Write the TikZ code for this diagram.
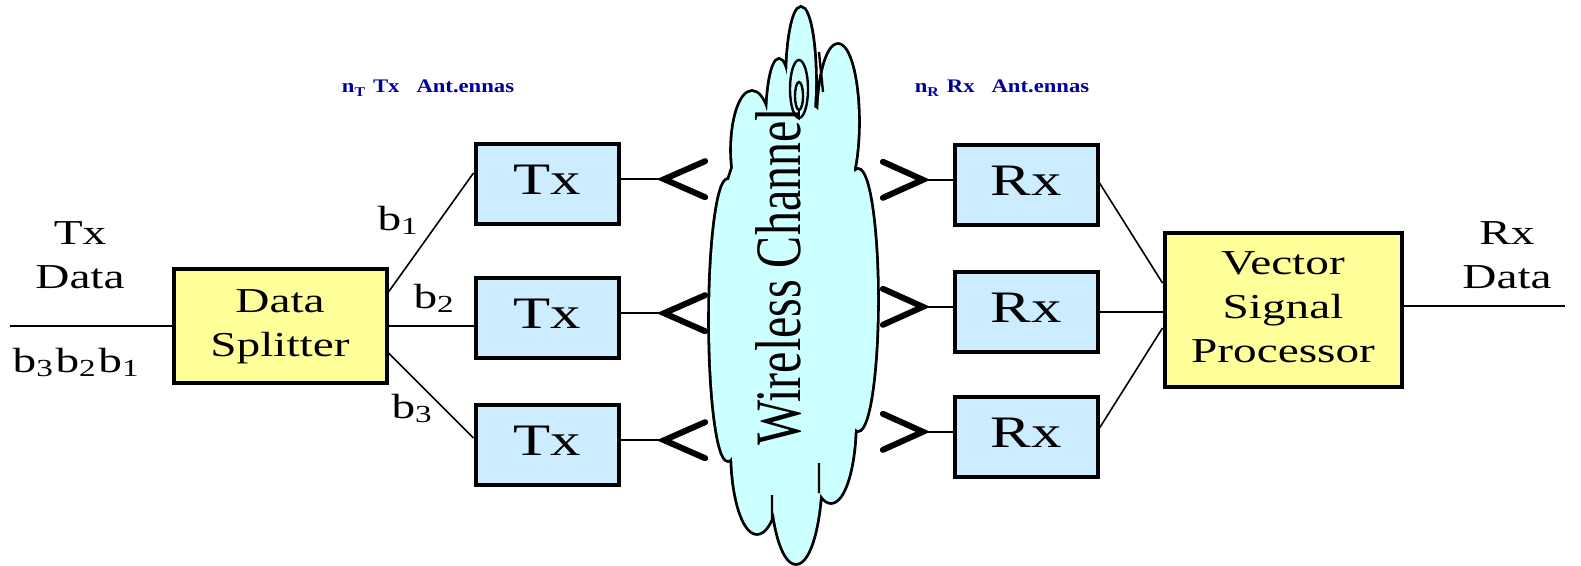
\documentclass[tikz,border=0pt]{standalone}
\usepackage{fontspec}
\setmainfont{Liberation Serif}
\usetikzlibrary{positioning}

\definecolor{txblue}{RGB}{204,236,255}
\definecolor{procyellow}{RGB}{255,255,153}
\definecolor{cloudcyan}{RGB}{204,255,255}
\definecolor{antblue}{RGB}{0,0,153}

% wide serif lettering
\newcommand\stretchtext[1]{\scalebox{1.35}[1]{\begin{tabular}[b]{@{}c@{}}#1\end{tabular}}}
% lobes of the channel cloud
\newcommand\cloudlobes{
  (793,300) ellipse [x radius=80, y radius=200]
  (801,82) ellipse [x radius=14, y radius=74]
  (838,122) ellipse [x radius=20, y radius=77]
  (779,122) ellipse [x radius=12, y radius=62]
  (752,150) ellipse [x radius=20, y radius=58]
  (757,450) ellipse [x radius=25, y radius=83]
  (796,470) ellipse [x radius=25, y radius=93]
  (831,420) ellipse [x radius=24, y radius=82]
  (858,300) ellipse [x radius=19, y radius=130]
  (728,320) ellipse [x radius=18, y radius=140]}

\begin{document}
\begin{tikzpicture}[x=0.25pt, y=-0.25pt, line width=0.4pt,
  unitbox/.style = {draw, line width=1pt, fill=txblue, minimum width=35.75pt, minimum height=20pt, inner sep=0pt, font=\fontsize{11.25}{13.5}\selectfont},
  procbox/.style = {draw, line width=1pt, fill=procyellow, inner sep=0pt, font=\fontsize{8.75}{11}\selectfont},
  lbl/.style = {inner sep=0pt, font=\fontsize{8.75}{11}\selectfont},
  antlabel/.style = {inner sep=0pt, text=antblue, font=\fontsize{4.8}{6}\selectfont\bfseries},
  chev/.style = {line width=1.5pt, line cap=round}]
	\useasboundingbox (0,0) rectangle (1581,566);

	% wireless channel
	\draw[line width=1.4pt] \cloudlobes;
	\fill[cloudcyan] \cloudlobes;
	\draw[line width=0.6pt] (799,89) ellipse [x radius=9, y radius=29] (799,96) ellipse [x radius=4, y radius=14];
	\draw[line width=0.6pt] (772,495) -- (772,520) (819,463) -- (819,493) (819,52) -- (823,92);
	\node[rotate=90, anchor=base, inner sep=0pt, font=\fontsize{12}{14}\selectfont] (chan) at (800,277) {\scalebox{1}[1.35]{Wireless Channel}};

	% blocks
	\node[procbox, minimum width=53.25pt, minimum height=28.5pt] (split) at (280,326) {\stretchtext{Data\\Splitter}};
	\node[unitbox] (tx2) [right of=split, node distance=66.75pt, yshift=2pt] {\stretchtext{Tx}};
	\node[unitbox] (tx1) [above of=tx2, node distance=33.5pt] {\stretchtext{Tx}};
	\node[unitbox] (tx3) [below of=tx2, node distance=31.75pt] {\stretchtext{Tx}};
	\node[unitbox] (rx2) [right of=tx2, node distance=119.75pt, yshift=1.5pt] {\stretchtext{Rx}};
	\node[unitbox] (rx1) [above of=rx2, node distance=31.75pt] {\stretchtext{Rx}};
	\node[unitbox] (rx3) [below of=rx2, node distance=31.25pt] {\stretchtext{Rx}};
	\node[procbox, minimum width=59.25pt, minimum height=38.5pt] (vsp) [right of=rx2, node distance=64.25pt, yshift=0.5pt] {\stretchtext{Vector\\Signal\\Processor}};

	\coordinate (din) at (10,326);
	\coordinate (dout) at (1565,306);
	\coordinate (lt1) at ([shift={(10.9pt,1.2pt)}]tx1.east);
	\coordinate (lt2) at ([shift={(10.9pt,1.2pt)}]tx2.east);
	\coordinate (lt3) at ([shift={(10.9pt,1.2pt)}]tx3.east);
	\coordinate (rt1) at ([shift={(-7.4pt,1.3pt)}]rx1.west);
	\coordinate (rt2) at ([shift={(-7.4pt,1.3pt)}]rx2.west);
	\coordinate (rt3) at ([shift={(-7.4pt,1.3pt)}]rx3.west);

	\path
	(din) edge (split)
	([yshift=8.5pt]split.east) edge ([yshift=2.75pt]tx1.west)
	(split.east) edge (split.east -| tx2.west)
	([yshift=-6.75pt]split.east) edge ([yshift=1.75pt]tx3.west)
	([yshift=1.2pt]tx1.east) edge (lt1)
	([yshift=1.2pt]tx2.east) edge (lt2)
	([yshift=1.2pt]tx3.east) edge (lt3)
	(rt1) edge ([yshift=1.3pt]rx1.west)
	(rt2) edge ([yshift=1.3pt]rx2.west)
	(rt3) edge ([yshift=1.3pt]rx3.west)
	([yshift=0.5pt]rx1.east) edge ([yshift=6.75pt]vsp.west)
	(rx2.east) edge (rx2.east -| vsp.west)
	([yshift=2.25pt]rx3.east) edge ([yshift=-4.5pt]vsp.west)
	([yshift=1pt]vsp.east) edge (dout);

	% antenna marks
	\draw[chev] ([shift={(10.25pt,4.5pt)}]lt1) -- (lt1) -- ([shift={(10.25pt,-4.5pt)}]lt1);
	\draw[chev] ([shift={(10.25pt,4.5pt)}]lt2) -- (lt2) -- ([shift={(10.25pt,-4.5pt)}]lt2);
	\draw[chev] ([shift={(10.25pt,4.5pt)}]lt3) -- (lt3) -- ([shift={(10.25pt,-4.5pt)}]lt3);
	\draw[chev] ([shift={(-10pt,4.5pt)}]rt1) -- (rt1) -- ([shift={(-10pt,-4.5pt)}]rt1);
	\draw[chev] ([shift={(-10pt,4.5pt)}]rt2) -- (rt2) -- ([shift={(-10pt,-4.5pt)}]rt2);
	\draw[chev] ([shift={(-10pt,4.5pt)}]rt3) -- (rt3) -- ([shift={(-10pt,-4.5pt)}]rt3);

	% labels
	\node[lbl, anchor=base] (txdata) at (80,288) {\stretchtext{Tx\\Data}};
	\node[lbl, anchor=base] (rxdata) at (1507,288) {\stretchtext{Rx\\Data}};
	\node[lbl, anchor=base] (bits) at (77,372) {\stretchtext{b\textsubscript{3}b\textsubscript{2}b\textsubscript{1}}};
	\node[lbl, anchor=base] (b1) at (399,230) {\stretchtext{b\textsubscript{1}}};
	\node[lbl, anchor=base] (b2) at (435,308) {\stretchtext{b\textsubscript{2}}};
	\node[lbl, anchor=base] (b3) at (413,418) {\stretchtext{b\textsubscript{3}}};
	\node[antlabel, anchor=base] (ntx) at (428,93) {\scalebox{1.18}[1]{n\textsubscript{T} Tx\hspace{0.75em}Ant.ennas}};
	\node[antlabel, anchor=base] (nrx) at (1002,93) {\scalebox{1.18}[1]{n\textsubscript{R} Rx\hspace{0.75em}Ant.ennas}};
\end{tikzpicture}
\end{document}
